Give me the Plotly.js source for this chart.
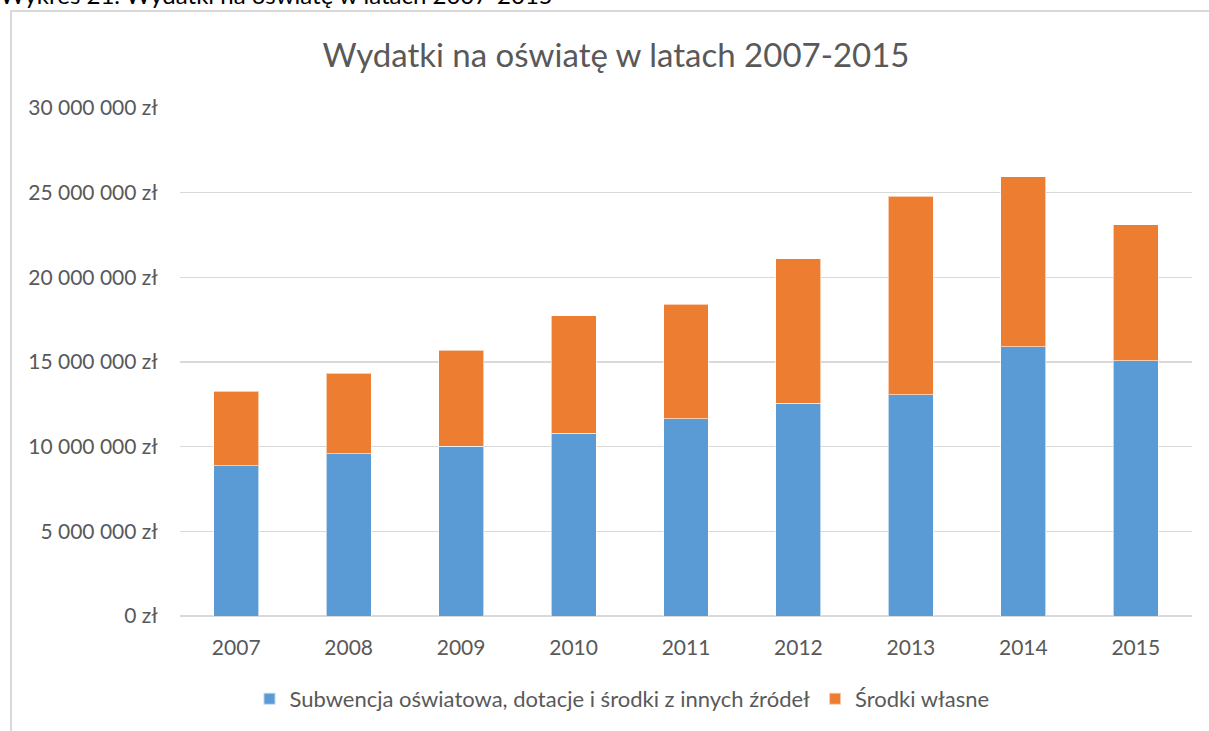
<!DOCTYPE html>
<html>
<head>
<meta charset="utf-8">
<script src="https://cdn.plot.ly/plotly-3.0.1.min.js"></script>
<style>
  html, body { margin: 0; padding: 0; background: #fff; overflow: hidden; }
  #wrap { position: relative; width: 1209px; height: 731px; overflow: hidden; }
  #caption { position: absolute; left: 0; top: -17px; font-family: Lato, sans-serif; font-size: 24px; line-height: 24px; color: #000; white-space: nowrap; }
  #frame { position: absolute; left: 10px; top: 10px; width: 1210px; height: 740px; border-left: 2px solid #d9d9d9; border-top: 2px solid #d9d9d9; box-sizing: border-box; }
  #chart { position: absolute; left: 0; top: 0; width: 1209px; height: 731px; }
</style>
</head>
<body>
<div id="wrap">
  <div id="caption">Wykres 21. Wydatki na oświatę w latach 2007-2015</div>
  <div id="frame"></div>
  <div id="chart"></div>
</div>
<script>
const years = ['2007', '2008', '2009', '2010', '2011', '2012', '2013', '2014', '2015'];
const subwencja = [8870000, 9580000, 10030000, 10790000, 11640000, 12550000, 13080000, 15910000, 15080000];
const srodkiWlasne = [4390000, 4750000, 5670000, 6950000, 6760000, 8540000, 11720000, 10020000, 8040000];
const seriesNames = ['Subwencja oświatowa, dotacje i środki z innych źródeł', 'Środki własne'];
const yTickVals = [0, 5000000, 10000000, 15000000, 20000000, 25000000, 30000000];
const yTickText = ['0 zł', '5 000 000 zł', '10 000 000 zł', '15 000 000 zł', '20 000 000 zł', '25 000 000 zł', '30 000 000 zł'];
const chartTitle = 'Wydatki na oświatę w latach 2007-2015';

const font = 'Lato, "Open Sans", sans-serif';
const textColor = '#595959';

const traces = [
  {
    type: 'bar', x: years, y: subwencja, name: seriesNames[0],
    marker: { color: '#5B9BD5', line: { color: 'rgba(255,255,255,0.6)', width: 1 } },
    hoverinfo: 'skip'
  },
  {
    type: 'bar', x: years, y: srodkiWlasne, name: seriesNames[1],
    marker: { color: '#ED7D31', line: { color: 'rgba(255,255,255,0.6)', width: 1 } },
    hoverinfo: 'skip'
  }
];

const layout = {
  width: 1209, height: 731,
  paper_bgcolor: 'rgba(0,0,0,0)', plot_bgcolor: 'rgba(0,0,0,0)',
  margin: { l: 180, r: 17, t: 108, b: 115, pad: 0 },
  barmode: 'stack', bargap: 0.6,
  font: { family: font, color: textColor, size: 20 },
  title: {
    text: chartTitle, xref: 'container', yref: 'container',
    x: 616 / 1209, xanchor: 'center', y: 1 - 55 / 731, yanchor: 'middle',
    font: { family: font, size: 33, color: textColor }
  },
  xaxis: {
    type: 'category', showgrid: false, zeroline: false, showline: false,
    ticks: 'outside', ticklen: 13, tickcolor: 'rgba(0,0,0,0)',
    tickfont: { family: font, size: 21, color: textColor }
  },
  yaxis: {
    range: [0, 30000000], tickvals: yTickVals, ticktext: yTickText,
    showgrid: true, gridcolor: '#d9d9d9', gridwidth: 1.5,
    zeroline: true, zerolinecolor: '#d9d9d9', zerolinewidth: 1.5,
    showline: false, ticks: 'outside', ticklen: 17, tickcolor: 'rgba(0,0,0,0)',
    tickfont: { family: font, size: 21, color: textColor }
  },
  showlegend: true,
  legend: {
    orientation: 'h', xref: 'container', yref: 'container',
    x: 622 / 1209, xanchor: 'center', y: 1 - 699 / 731, yanchor: 'middle',
    font: { family: font, size: 22, color: textColor },
    traceorder: 'normal', itemsizing: 'constant'
  }
};

Plotly.newPlot('chart', traces, layout, { displayModeBar: false, staticPlot: true });
</script>
</body>
</html>
